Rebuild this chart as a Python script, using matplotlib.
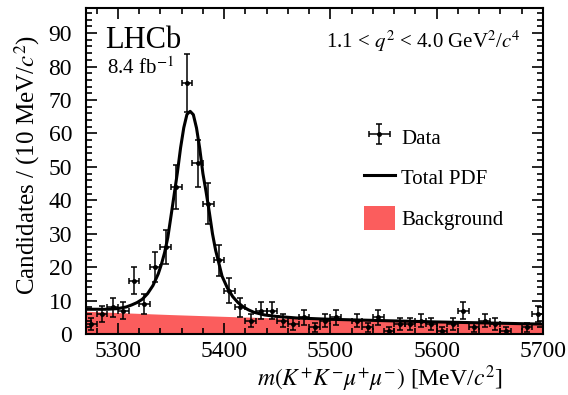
import numpy as np
import matplotlib
matplotlib.use("Agg")
import matplotlib.pyplot as plt
from matplotlib.patches import Patch
from matplotlib.lines import Line2D
from matplotlib.ticker import MultipleLocator

# binned data, 10 MeV bins
bin_centres = [5275, 5285, 5295, 5305, 5315, 5325, 5335, 5345, 5355, 5365,
               5375, 5385, 5395, 5405, 5415, 5425, 5435, 5445, 5455, 5465,
               5475, 5485, 5495, 5505, 5515, 5525, 5535, 5545, 5555, 5565,
               5575, 5585, 5595, 5605, 5615, 5625, 5635, 5645, 5655, 5665,
               5675, 5685, 5695]
counts = [3, 6, 8, 7, 16, 9, 20, 26, 44, 75,
          51, 39, 22, 13, 8, 4, 7, 7, 4, 3,
          5, 2, 4, 5, 0, 4, 2, 5, 1, 3,
          3, 4, 3, 1, 3, 7, 2, 4, 3, 1,
          0, 2, 6]

# total pdf
pdf_mass = [5270, 5280, 5290, 5300, 5308, 5313, 5318, 5323, 5328, 5333,
            5338, 5341, 5344, 5347, 5350, 5353, 5356, 5359, 5362, 5365,
            5368, 5371, 5374, 5377, 5380, 5383, 5386, 5389, 5392, 5395,
            5398, 5403, 5408, 5413, 5418, 5423, 5428, 5438, 5448, 5468,
            5500, 5550, 5600, 5650, 5700]
pdf_total = [7.4, 7.4, 7.4, 7.6, 8.1, 8.7, 9.4, 10.4, 12.1, 14.5,
             18.0, 20.9, 24.4, 28.9, 35.3, 41.8, 48.3, 55.7, 61.7, 65.7,
             66.6, 65.6, 61.6, 55.5, 48.0, 42.5, 36.5, 30.0, 25.0, 21.2,
             17.3, 13.8, 11.2, 9.4, 8.1, 7.2, 6.5, 5.7, 5.3, 4.8,
             4.4, 4.0, 3.61, 3.29, 2.96]

# background component
bkg_mass = [5270, 5300, 5350, 5400, 5450, 5500, 5550, 5600, 5650, 5700]
bkg_level = [6.8, 6.41, 5.81, 5.28, 4.79, 4.34, 3.96, 3.61, 3.29, 2.96]

plt.rcParams['font.family'] = ['Liberation Serif', 'DejaVu Serif']
plt.rcParams['mathtext.fontset'] = 'stix'

fig = plt.figure(figsize=(5.68, 3.95), dpi=100)
ax = fig.add_axes([0.1514, 0.1544, 0.8046, 0.8253])

bkg_col = '#fb5d5d'
ax.fill_between(bkg_mass, 0, bkg_level, color=bkg_col, lw=0, zorder=1)
ax.plot(pdf_mass, pdf_total, color='black', lw=2.2, zorder=3)

x = np.array(bin_centres)
y = np.array(counts, dtype=float)
keep = y > 0
err = ax.errorbar(x[keep], y[keep], xerr=5, yerr=np.sqrt(y[keep]),
                  fmt='o', ms=2.5, color='black', ecolor='black',
                  elinewidth=1.1, capsize=2, capthick=1.1, zorder=4)

ax.set_xlim(5270, 5700)
ax.set_ylim(0, 97.5)

ax.xaxis.set_major_locator(MultipleLocator(100))
ax.xaxis.set_minor_locator(MultipleLocator(20))
ax.yaxis.set_major_locator(MultipleLocator(10))
ax.yaxis.set_minor_locator(MultipleLocator(2))
ax.tick_params(which='both', direction='in', top=True, right=True,
               labelsize=17, width=1.2)
ax.tick_params(which='major', length=8)
ax.tick_params(which='minor', length=4)
ax.tick_params(axis='x', pad=5)
ax.tick_params(axis='y', pad=10)
for s in ax.spines.values():
    s.set_linewidth(1.5)

ax.set_ylabel(r'Candidates / (10 MeV/$c^{2}$)', fontsize=18, va='center')
ax.yaxis.set_label_coords(-0.128, 0.52)
ax.set_xlabel(r'$m(K^{+}K^{-}\mu^{+}\mu^{-})$ [MeV/$c^{2}$]', fontsize=17,
              ha='right', va='center')
ax.xaxis.set_label_coords(0.912, -0.136)

ax.text(0.042, 0.877, 'LHCb', transform=ax.transAxes, fontsize=22,
        ha='left', va='baseline')
ax.text(0.045, 0.797, r'8.4 fb$^{-1}$', transform=ax.transAxes, fontsize=15,
        ha='left', va='baseline')
ax.text(0.951, 0.877, r'1.1 < $q^{2}$ < 4.0 GeV$^{2}$/$c^{4}$',
        transform=ax.transAxes, fontsize=15, ha='right', va='baseline')

handles = [err,
           Line2D([], [], color='black', lw=2.2),
           Patch(facecolor=bkg_col, edgecolor='none')]
ax.legend(handles, ['Data', 'Total PDF', 'Background'],
          loc='upper left', bbox_to_anchor=(0.567, 0.70), frameon=False,
          fontsize=15, handlelength=1.5, handleheight=1.4,
          labelspacing=0.8, handletextpad=0.3)

fig.savefig('out.png', dpi=100)
